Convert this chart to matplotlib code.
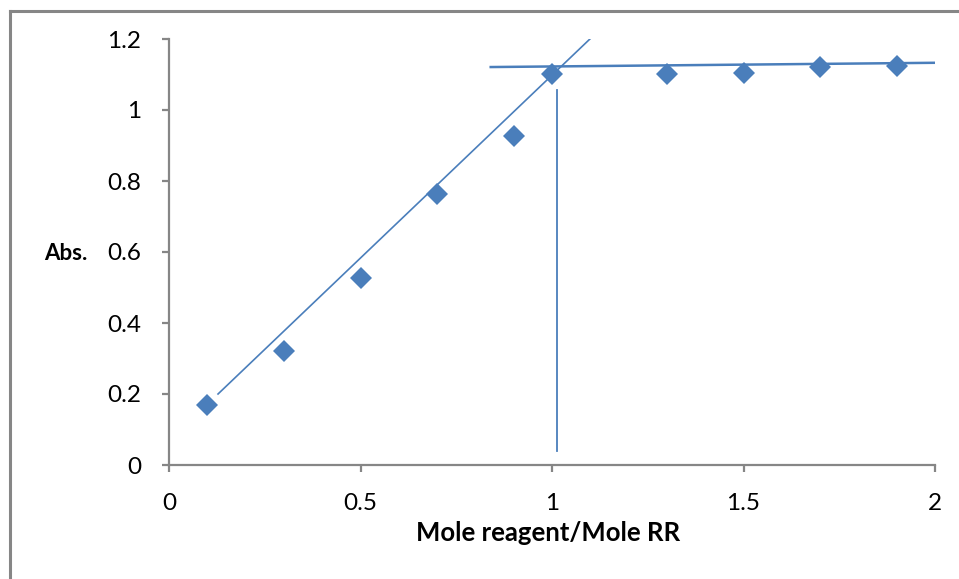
import numpy as np
import matplotlib
matplotlib.use("Agg")
import matplotlib.pyplot as plt
from matplotlib.lines import Line2D

# measured data
mole_ratio = [0.1, 0.3, 0.5, 0.7, 0.9, 1.0, 1.3, 1.5, 1.7, 1.9]
absorb = [0.17, 0.322, 0.528, 0.763, 0.927, 1.10, 1.10, 1.105, 1.12, 1.125]

# hand drawn guide lines (start, end)
rise_x = [0.128, 1.099]
rise_y = [0.20, 1.20]
plateau_x = [0.84, 2.0]
plateau_y = [1.121, 1.133]
drop_x = [1.013, 1.013]
drop_y = [1.055, 0.04]

x_ticks = [0, 0.5, 1, 1.5, 2]
x_labels = ["0", "0.5", "1", "1.5", "2"]
y_ticks = [0, 0.2, 0.4, 0.6, 0.8, 1.0, 1.2]
y_labels = ["0", "0.2", "0.4", "0.6", "0.8", "1", "1.2"]

plt.rcParams["font.family"] = ["Lato", "DejaVu Sans"]
blue = "#4A7EBB"
grey = "#868686"

fig = plt.figure(figsize=(9.59, 5.79), dpi=100)
ax = fig.add_axes([169 / 959, 1 - 465 / 579, 766 / 959, 426 / 579])

ax.plot(rise_x, rise_y, color=blue, lw=1.2)
ax.plot(plateau_x, plateau_y, color=blue, lw=1.8)
ax.plot(drop_x, drop_y, color=blue, lw=1.3)
ax.plot(mole_ratio, absorb, "D", color=blue, markersize=11, markeredgewidth=0)

ax.set_xlim(0, 2)
ax.set_ylim(0, 1.2)
ax.set_xticks(x_ticks)
ax.set_xticklabels(x_labels)
ax.set_yticks(y_ticks)
ax.set_yticklabels(y_labels)

for s in ["top", "right"]:
    ax.spines[s].set_visible(False)
for s in ["left", "bottom"]:
    ax.spines[s].set_color(grey)
    ax.spines[s].set_linewidth(1.6)
ax.tick_params(axis="both", direction="out", length=5, width=1.6, color=grey,
               labelsize=17.5, labelcolor="black")
ax.tick_params(axis="x", pad=15)
ax.tick_params(axis="y", pad=15)

fig.text(548 / 959, 1 - 533 / 579, "Mole reagent/Mole RR", fontsize=18.5,
         fontweight="bold", ha="center", va="center")
fig.text(66 / 959, 1 - 254 / 579, "Abs.", fontsize=16, fontweight="bold",
         ha="center", va="center")

# cropped outer border (left and top only)
fig.add_artist(Line2D([9.5 / 959, 9.5 / 959], [0, 1 - 11 / 579], transform=fig.transFigure,
                      color=grey, lw=2.2))
fig.add_artist(Line2D([9.5 / 959, 1], [1 - 11 / 579, 1 - 11 / 579], transform=fig.transFigure,
                      color=grey, lw=2.2))

fig.savefig("out.png", dpi=100)
